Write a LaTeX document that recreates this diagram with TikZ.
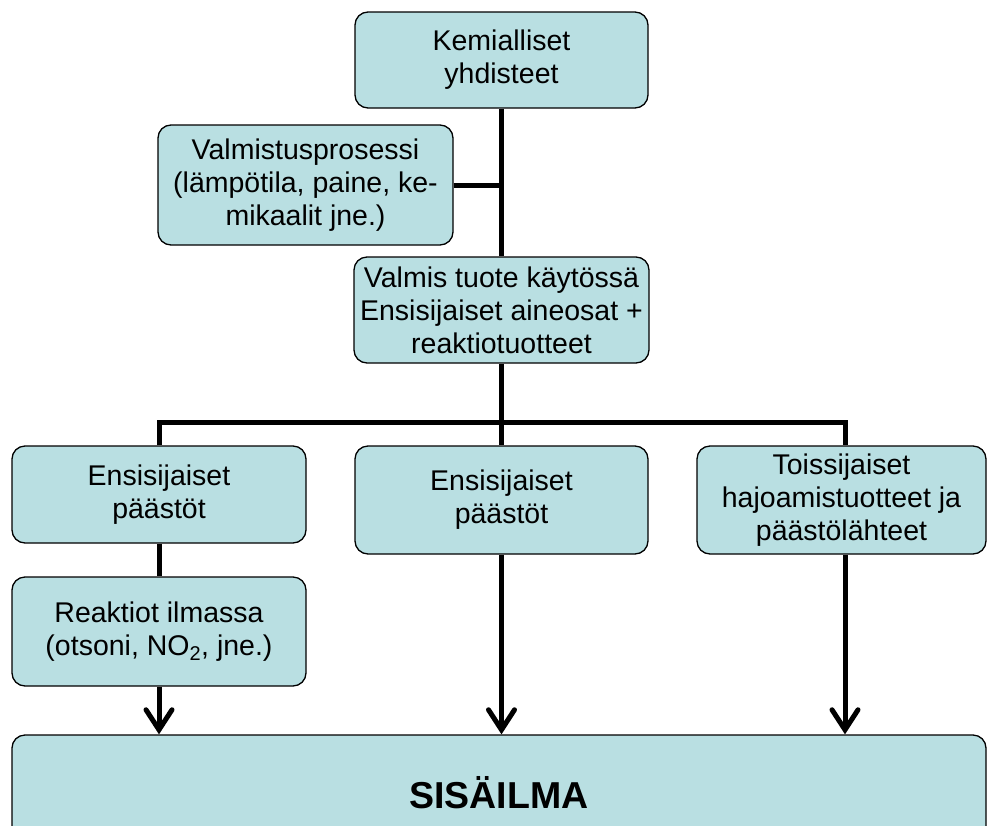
\documentclass[tikz,border=0pt]{standalone}
\usepackage{fontspec}
\setmainfont{Liberation Sans}
\usetikzlibrary{arrows.meta}
\definecolor{boxfill}{RGB}{185,223,226}
\begin{document}
\begin{tikzpicture}[x=1pt,y=-1pt,
  card/.style={draw=black, line width=1.3pt, fill=boxfill, rounded corners=13pt,
    align=center, inner sep=0pt, font=\fontsize{28.5}{33}\selectfont},
  link/.style={line width=5pt},
  flow/.style={line width=5pt, -{Straight Barb[length=20pt,width=26pt,line cap=round]}}
]
\useasboundingbox (0,0) rectangle (988,825);

% boxes
\node[card, minimum width=293pt, minimum height=96pt] (kem) at (501.5,60) {Kemialliset\\yhdisteet};
\node[card, minimum width=295pt, minimum height=120pt] (proc) at (305.5,185)
  {Valmistusprosessi\\(lämpötila, paine, ke-\\mikaalit jne.)};
\node[card, minimum width=295pt, minimum height=106pt] (tuote) at (501.5,310)
  {Valmis tuote käytössä\\Ensisijaiset aineosat +\\reaktiotuotteet};
\node[card, minimum width=294pt, minimum height=97pt] (ens1) at (159,494.5) {Ensisijaiset\\päästöt};
\node[card, minimum width=293pt, minimum height=108pt] (ens2) at (501.5,500) {Ensisijaiset\\päästöt};
\node[card, minimum width=289pt, minimum height=108pt] (tois) at (841.5,500)
  {Toissijaiset\\hajoamistuotteet ja\\päästölähteet};
\node[card, minimum width=294pt, minimum height=109pt] (reak) at (159,631.5)
  {Reaktiot ilmassa\\(otsoni, NO\textsubscript{2}, jne.)};
\node[card, minimum width=974pt, minimum height=116pt, font=\fontsize{37.5}{40}\selectfont\bfseries]
  (sisa) at (499,793) {SISÄILMA};

% junctions
\coordinate (merge) at (kem.south |- proc.east);
\coordinate (hub) at (tuote.south |- 0,422);
\coordinate (leftdrop) at (ens1.north |- hub);
\coordinate (rightdrop) at (845,422);

% connectors
\draw[link] (kem.south) -- (tuote.north);
\draw[link] (proc.east) -- (merge);
\draw[link] (tuote.south) -- (hub);
\draw[link] (ens1.north) -- (leftdrop) -- (rightdrop) -- (rightdrop |- tois.north);
\draw[link] (hub) -- (ens2.north);
\draw[link] (ens1.south) -- (reak.north);
\draw[flow] (reak.south) -- (reak.south |- sisa.north);
\draw[flow] (ens2.south) -- (ens2.south |- sisa.north);
\draw[flow] (rightdrop |- tois.south) -- (rightdrop |- sisa.north);
\end{tikzpicture}
\end{document}
